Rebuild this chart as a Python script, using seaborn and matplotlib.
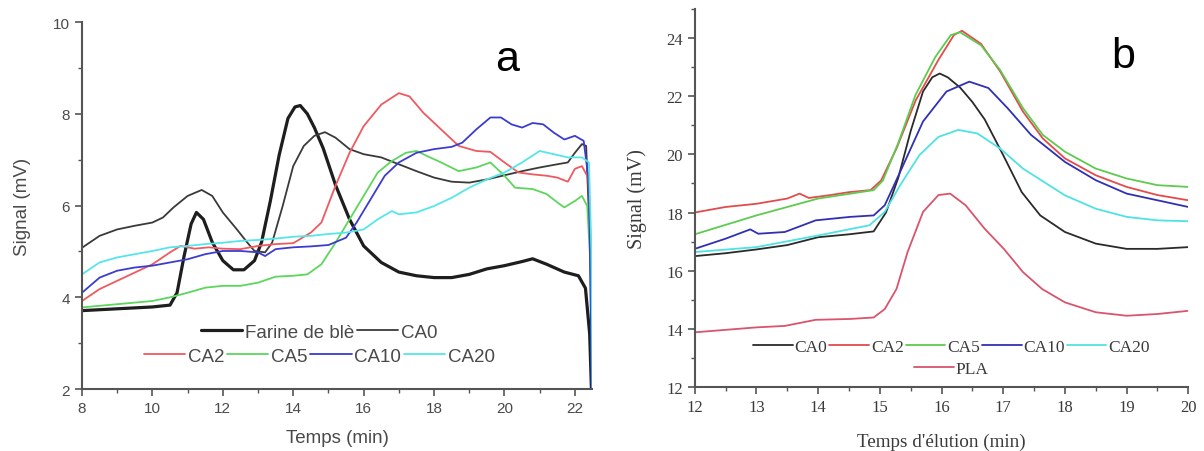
import numpy as np
import pandas as pd
import matplotlib
matplotlib.use("Agg")
import matplotlib.pyplot as plt
import seaborn as sns
from matplotlib.ticker import MultipleLocator

# ---------------- Panel a data ----------------
farine_x = [8, 8.5, 9, 9.5, 10, 10.5, 10.7, 10.9, 11.1, 11.25, 11.45, 11.7, 12.0, 12.3, 12.6, 12.9, 13.1, 13.35,
            13.6, 13.85, 14.05, 14.2, 14.4, 14.6, 14.85, 15.2, 15.6, 16.0, 16.5, 17.0, 17.5, 18.0, 18.5, 19.0,
            19.5, 20.0, 20.5, 20.8, 21.2, 21.7, 22.1, 22.3, 22.42, 22.47]
farine_y = [3.71, 3.73, 3.75, 3.77, 3.79, 3.83, 4.1, 4.9, 5.6, 5.85, 5.7, 5.2, 4.8, 4.6, 4.6, 4.8, 5.2, 6.1,
            7.1, 7.9, 8.15, 8.18, 8.0, 7.7, 7.25, 6.45, 5.7, 5.12, 4.76, 4.55, 4.47, 4.43, 4.43, 4.5,
            4.62, 4.69, 4.78, 4.84, 4.72, 4.55, 4.47, 4.2, 3.2, 2.0]

ca0a_x = [8, 8.5, 9, 9.5, 10, 10.3, 10.6, 11.0, 11.4, 11.7, 12.0, 12.4, 12.7, 12.9, 13.2, 13.4, 13.7, 14.0,
          14.3, 14.6, 14.9, 15.2, 15.6, 16.0, 16.5, 17.0, 17.5, 18.0, 18.5, 19.0, 19.5, 20.0, 20.5, 21.0,
          21.5, 21.8, 22.0, 22.2, 22.32, 22.44, 22.48]
ca0a_y = [5.08, 5.34, 5.48, 5.56, 5.63, 5.74, 5.96, 6.21, 6.34, 6.21, 5.85, 5.48, 5.19, 5.01, 4.98, 5.19, 5.99,
          6.86, 7.3, 7.52, 7.6, 7.48, 7.23, 7.12, 7.05, 6.9, 6.75, 6.61, 6.52, 6.5, 6.57, 6.66, 6.75, 6.83,
          6.9, 6.94, 7.15, 7.34, 7.3, 5.0, 2.0]

ca2a_x = [8, 8.5, 9, 9.5, 10, 10.5, 10.8, 11.2, 11.6, 12.0, 12.5, 13.0, 13.5, 14.0, 14.5, 14.8, 15.2, 15.6,
          16.0, 16.5, 17.0, 17.3, 17.7, 18.2, 18.7, 19.2, 19.6, 20.0, 20.4, 20.8, 21.2, 21.5, 21.8, 22.0,
          22.2, 22.38, 22.46, 22.5]
ca2a_y = [3.92, 4.18, 4.36, 4.54, 4.72, 4.98, 5.12, 5.06, 5.09, 5.06, 5.05, 5.12, 5.16, 5.18, 5.41, 5.63, 6.43,
          7.15, 7.73, 8.2, 8.45, 8.38, 8.02, 7.66, 7.3, 7.19, 7.17, 6.94, 6.72, 6.68, 6.65, 6.61, 6.52, 6.8,
          6.86, 6.6, 5.0, 2.0]

ca5a_x = [8, 9, 10, 10.5, 11.0, 11.5, 12.0, 12.5, 13.0, 13.5, 14.0, 14.4, 14.8, 15.2, 15.6, 16.0, 16.4, 16.8,
          17.2, 17.5, 17.8, 18.2, 18.7, 19.2, 19.6, 20.0, 20.3, 20.8, 21.2, 21.5, 21.7, 22.0, 22.2, 22.35,
          22.46, 22.5]
ca5a_y = [3.78, 3.85, 3.92, 4.0, 4.1, 4.21, 4.25, 4.25, 4.32, 4.45, 4.47, 4.5, 4.72, 5.19, 5.7, 6.21, 6.72, 6.97,
          7.15, 7.19, 7.08, 6.94, 6.75, 6.83, 6.94, 6.65, 6.39, 6.36, 6.25, 6.07, 5.96, 6.1, 6.21, 5.99,
          4.5, 2.0]

ca10a_x = [8, 8.5, 9, 9.5, 10, 10.5, 11, 11.5, 12, 12.5, 13, 13.2, 13.5, 14, 14.5, 15, 15.5, 15.8, 16.2, 16.6,
           17, 17.5, 18, 18.5, 18.8, 19.2, 19.6, 19.9, 20.2, 20.5, 20.8, 21.1, 21.4, 21.7, 22.0, 22.25, 22.4,
           22.48]
ca10a_y = [4.1, 4.43, 4.58, 4.65, 4.69, 4.76, 4.83, 4.94, 5.01, 5.01, 4.98, 4.9, 5.05, 5.09, 5.11, 5.14, 5.3,
           5.63, 6.14, 6.65, 6.94, 7.15, 7.23, 7.28, 7.37, 7.66, 7.92, 7.92, 7.77, 7.7, 7.8, 7.77, 7.59, 7.44,
           7.52, 7.41, 6.5, 2.0]

ca20a_x = [8, 8.5, 9, 9.5, 10, 10.5, 11, 11.5, 12, 12.5, 13, 13.5, 14, 14.5, 15, 15.5, 16, 16.4, 16.8, 17.0,
           17.5, 18, 18.5, 19, 19.5, 20, 20.5, 21, 21.4, 21.8, 22.2, 22.4, 22.47, 22.5]
ca20a_y = [4.5, 4.76, 4.87, 4.94, 5.01, 5.09, 5.12, 5.16, 5.19, 5.23, 5.25, 5.28, 5.32, 5.34, 5.38, 5.41, 5.48,
           5.7, 5.88, 5.81, 5.85, 5.99, 6.17, 6.39, 6.57, 6.72, 6.94, 7.19, 7.12, 7.05, 7.05, 6.94, 5.0, 2.0]

# ---------------- Panel b data ----------------
ca0b_x = [12, 12.5, 13, 13.5, 14, 14.5, 14.9, 15.1, 15.3, 15.5, 15.7, 15.85, 15.97, 16.1, 16.3, 16.5, 16.7,
          17.0, 17.3, 17.6, 18.0, 18.5, 19.0, 19.5, 20.0]
ca0b_y = [16.5, 16.6, 16.73, 16.88, 17.15, 17.25, 17.35, 18.0, 19.2, 20.8, 22.16, 22.65, 22.78, 22.65, 22.3,
          21.8, 21.2, 19.97, 18.7, 17.9, 17.33, 16.93, 16.75, 16.75, 16.81]

ca2b_x = [12, 12.5, 13, 13.5, 13.7, 13.85, 14.2, 14.5, 14.85, 15.02, 15.27, 15.58, 15.95, 16.2, 16.33, 16.64,
          16.95, 17.32, 17.64, 18, 18.5, 19, 19.5, 20]
ca2b_y = [18.0, 18.19, 18.3, 18.48, 18.65, 18.5, 18.6, 18.7, 18.77, 19.1, 20.2, 21.85, 23.25, 24.1, 24.25,
          23.8, 22.85, 21.47, 20.55, 19.86, 19.28, 18.88, 18.6, 18.42]

ca5b_x = [12, 13, 14, 14.9, 15.05, 15.3, 15.58, 15.9, 16.15, 16.3, 16.64, 16.95, 17.32, 17.64, 18, 18.5, 19,
          19.5, 20]
ca5b_y = [17.25, 17.9, 18.48, 18.77, 19.1, 20.4, 22.05, 23.35, 24.1, 24.2, 23.75, 22.9, 21.59, 20.67, 20.09,
          19.51, 19.17, 18.94, 18.88]

ca10b_x = [12, 12.5, 12.9, 13.03, 13.46, 13.96, 14.52, 14.9, 15.08, 15.33, 15.7, 16.08, 16.45, 16.76, 17.07,
           17.45, 18, 18.5, 19, 19.5, 20]
ca10b_y = [16.75, 17.1, 17.42, 17.27, 17.33, 17.73, 17.85, 17.9, 18.25, 19.4, 21.13, 22.16, 22.5, 22.28, 21.59,
           20.67, 19.74, 19.11, 18.65, 18.42, 18.19]

ca20b_x = [12, 13, 14, 14.83, 15.08, 15.33, 15.64, 15.95, 16.27, 16.58, 16.95, 17.32, 18, 18.5, 19, 19.5, 20]
ca20b_y = [16.64, 16.81, 17.21, 17.56, 18.02, 18.94, 19.97, 20.6, 20.84, 20.72, 20.2, 19.51, 18.59, 18.13,
           17.85, 17.73, 17.7]

pla_x = [12, 13, 13.46, 13.96, 14.52, 14.9, 15.08, 15.27, 15.45, 15.7, 15.95, 16.14, 16.39, 16.7, 17.01, 17.32,
         17.63, 18, 18.5, 19, 19.5, 20]
pla_y = [13.88, 14.05, 14.1, 14.31, 14.34, 14.39, 14.68, 15.37, 16.64, 18.02, 18.6, 18.65, 18.25, 17.44, 16.75,
         15.95, 15.37, 14.91, 14.57, 14.45, 14.51, 14.62]

labels_a = ["Farine de blè", "CA0", "CA2", "CA5", "CA10", "CA20"]
labels_b = ["CA0", "CA2", "CA5", "CA10", "CA20", "PLA"]

# ---------------- Figure ----------------
sns.set_style("ticks")
fig = plt.figure(figsize=(12.04, 4.52), dpi=100)
axA = fig.add_axes([0.0681, 0.137, 0.424, 0.812])
axB = fig.add_axes([0.577, 0.1416, 0.410, 0.8364])

SANS = ["Liberation Sans", "DejaVu Sans"]
SERIF = ["Liberation Serif", "DejaVu Serif"]
TXT_A = "#4a4a4a"
TXT_B = "#3a3a3a"

series_a = [
    (farine_x, farine_y, "#1e1e1e", 2.3),
    (ca0a_x, ca0a_y, "#3a3a3a", 1.3),
    (ca2a_x, ca2a_y, "#ee5a5f", 1.3),
    (ca5a_x, ca5a_y, "#5cd65c", 1.3),
    (ca10a_x, ca10a_y, "#3c3cd0", 1.3),
    (ca20a_x, ca20a_y, "#55e6ea", 1.3),
]
handles_a = []
for (xs, ys, c, lw), lab in zip(series_a, labels_a):
    sns.lineplot(x=xs, y=ys, ax=axA, color=c, linewidth=lw, sort=False, estimator=None, label=lab, legend=False)
    handles_a.append(axA.get_lines()[-1])

series_b = [
    (ca0b_x, ca0b_y, "#2a2a2a", 1.3),
    (ca2b_x, ca2b_y, "#e34b4b", 1.3),
    (ca5b_x, ca5b_y, "#5dcc4e", 1.3),
    (ca10b_x, ca10b_y, "#3030b4", 1.3),
    (ca20b_x, ca20b_y, "#4fe2e2", 1.3),
    (pla_x, pla_y, "#d9546c", 1.3),
]
handles_b = []
for (xs, ys, c, lw), lab in zip(series_b, labels_b):
    sns.lineplot(x=xs, y=ys, ax=axB, color=c, linewidth=lw, sort=False, estimator=None, label=lab, legend=False)
    handles_b.append(axB.get_lines()[-1])

# ---- Axes A styling ----
axA.set_xlim(8, 22.5)
axA.set_ylim(2, 10)
axA.xaxis.set_major_locator(MultipleLocator(2))
axA.xaxis.set_minor_locator(MultipleLocator(1))
axA.yaxis.set_major_locator(MultipleLocator(2))
axA.yaxis.set_minor_locator(MultipleLocator(1))
axA.set_xlabel("Temps (min)", fontsize=13.5, family=SANS, color=TXT_A, labelpad=10)
axA.set_ylabel("Signal (mV)", fontsize=13.5, family=SANS, color=TXT_A, labelpad=16)
for lab in axA.get_xticklabels() + axA.get_yticklabels():
    lab.set_family(SANS)
axA.tick_params(which="major", length=5, width=1.2, colors="#555555", labelsize=11, labelcolor=TXT_A, direction="out")
axA.tick_params(which="minor", length=3, width=1.0, colors="#555555", direction="out")
sns.despine(ax=axA)
for s in ("left", "bottom"):
    axA.spines[s].set_color("#555555")
    axA.spines[s].set_linewidth(1.5)

legA1 = axA.legend(handles_a[:2], labels_a[:2], ncol=2, loc="center", bbox_to_anchor=(0.465, 0.155),
                   frameon=False, handlelength=2.2, handletextpad=0.15, columnspacing=0.15,
                   prop={"family": SANS, "size": 13.5})
for t in legA1.get_texts():
    t.set_color(TXT_A)
axA.add_artist(legA1)
legA2 = axA.legend(handles_a[2:], labels_a[2:], ncol=4, loc="center", bbox_to_anchor=(0.465, 0.09),
                   frameon=False, handlelength=2.2, handletextpad=0.15, columnspacing=0.15,
                   prop={"family": SANS, "size": 13.5})
for t in legA2.get_texts():
    t.set_color(TXT_A)

axA.text(0.833, 0.9, "a", transform=axA.transAxes, fontsize=31, family=SANS, color="black",
         ha="center", va="center")

# ---- Axes B styling ----
axB.set_xlim(12, 20)
axB.set_ylim(12, 25)
axB.xaxis.set_major_locator(MultipleLocator(1))
axB.xaxis.set_minor_locator(MultipleLocator(0.5))
axB.yaxis.set_major_locator(MultipleLocator(2))
axB.yaxis.set_minor_locator(MultipleLocator(1))
axB.set_yticks([12, 14, 16, 18, 20, 22, 24])
axB.set_xlabel("Temps d'élution (min)", fontsize=13.8, family=SERIF, color=TXT_B, labelpad=13)
axB.set_ylabel("Signal (mV)", fontsize=14.5, family=SERIF, color=TXT_B, labelpad=14)
for lab in axB.get_xticklabels() + axB.get_yticklabels():
    lab.set_family(SERIF)
axB.tick_params(which="major", length=5, width=1.2, colors="#555555", labelsize=12, labelcolor=TXT_B, direction="out")
axB.tick_params(which="minor", length=3, width=1.0, colors="#555555", direction="out")
sns.despine(ax=axB)
for s in ("left", "bottom"):
    axB.spines[s].set_color("#555555")
    axB.spines[s].set_linewidth(1.5)

legB1 = axB.legend(handles_b[:5], labels_b[:5], ncol=5, loc="center", bbox_to_anchor=(0.52, 0.106),
                   frameon=False, handlelength=2.3, handletextpad=0.1, columnspacing=0.1,
                   prop={"family": SERIF, "size": 12.5})
for t in legB1.get_texts():
    t.set_color(TXT_B)
axB.add_artist(legB1)
legB2 = axB.legend(handles_b[5:], labels_b[5:], ncol=1, loc="center", bbox_to_anchor=(0.52, 0.048),
                   frameon=False, handlelength=2.3, handletextpad=0.1,
                   prop={"family": SERIF, "size": 12.5})
for t in legB2.get_texts():
    t.set_color(TXT_B)

axB.text(0.867, 0.875, "b", transform=axB.transAxes, fontsize=31, family=SANS, color="black",
         ha="center", va="center")

fig.savefig("out.png", dpi=100)
